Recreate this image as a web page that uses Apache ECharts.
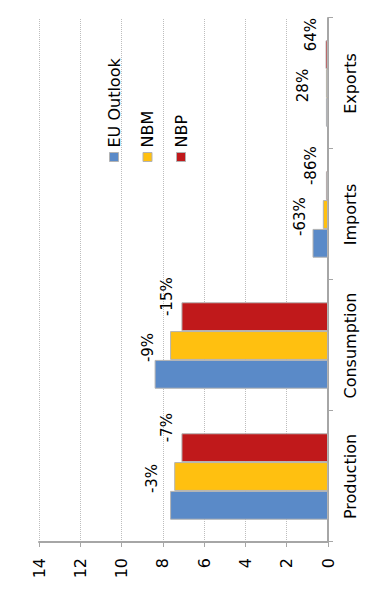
<!DOCTYPE html>
<html>
<head>
<meta charset="utf-8">
<script src="https://cdn.jsdelivr.net/npm/echarts@6/dist/echarts.min.js"></script>
<style>
  html, body { margin: 0; padding: 0; width: 381px; height: 593px; overflow: hidden; background: #fff; }
  #chart { position: absolute; left: 0; top: 0; width: 593px; height: 381px;
           transform-origin: 0 0; transform: translateY(593px) rotate(-90deg); }
</style>
</head>
<body>
<div id="chart"></div>
<script>
const categories = ["Production", "Consumption", "Imports", "Exports"];
const seriesNames = ["EU Outlook", "NBM", "NBP"];
const euOutlook = [7.65, 8.4, 0.75, 0.1];
const nbm = [7.45, 7.65, 0.25, 0.1];
const nbp = [7.1, 7.1, 0.1, 0.12];
const nbmLabels = ["-3%", "-9%", "-63%", "28%"];
const nbpLabels = ["-7%", "-15%", "-86%", "64%"];
const valueTicks = [0, 2, 4, 6, 8, 10, 12, 14];

const FONT = "DejaVu Sans";
const colors = ["#5a8ac8", "#ffc010", "#c0191b"];

const chart = echarts.init(document.getElementById('chart'), null, { renderer: 'svg' });
const barBase = {
  type: 'bar',
  barGap: '0%',
  barCategoryGap: '34%',
  itemStyle: { borderColor: '#b3b3b3', borderWidth: 1 }
};
chart.setOption({
  animation: false,
  color: colors,
  textStyle: { fontFamily: FONT },
  grid: { left: 51, right: 18, top: 39, bottom: 53, containLabel: false },
  legend: {
    orient: 'vertical',
    left: 426, top: 101,
    itemWidth: 9, itemHeight: 9, itemGap: 17.5,
    icon: 'rect',
    itemStyle: { borderColor: '#b3b3b3', borderWidth: 1 },
    textStyle: { fontFamily: FONT, fontSize: 16, color: '#000', lineHeight: 16 },
    data: seriesNames
  },
  xAxis: {
    type: 'category',
    data: categories,
    axisLine: { lineStyle: { color: '#a6a6a6', width: 2 } },
    axisTick: { show: true, length: 5, lineStyle: { color: '#a6a6a6', width: 1 } },
    axisLabel: { interval: 0, hideOverlap: false, fontFamily: FONT, fontSize: 16, color: '#000', margin: 14 }
  },
  yAxis: {
    type: 'value',
    min: valueTicks[0], max: valueTicks[valueTicks.length - 1], interval: 2,
    axisLine: { show: true, lineStyle: { color: '#a6a6a6', width: 2 } },
    axisTick: { show: true, length: 5, lineStyle: { color: '#a6a6a6', width: 1 } },
    axisLabel: { fontFamily: FONT, fontSize: 16, color: '#000', margin: 16 },
    splitLine: { show: true, lineStyle: { color: '#bdbdbd', type: 'dotted', width: 1 } }
  },
  series: [
    Object.assign({}, barBase, { name: seriesNames[0], data: euOutlook }),
    Object.assign({}, barBase, {
      name: seriesNames[1], data: nbm,
      label: { show: true, position: 'top', offset: [-2, -10], fontFamily: FONT, fontSize: 15, color: '#000',
               formatter: p => nbmLabels[p.dataIndex] }
    }),
    Object.assign({}, barBase, {
      name: seriesNames[2], data: nbp,
      label: { show: true, position: 'top', offset: [20, -2], fontFamily: FONT, fontSize: 15, color: '#000',
               formatter: p => nbpLabels[p.dataIndex] }
    })
  ]
});
</script>
</body>
</html>
